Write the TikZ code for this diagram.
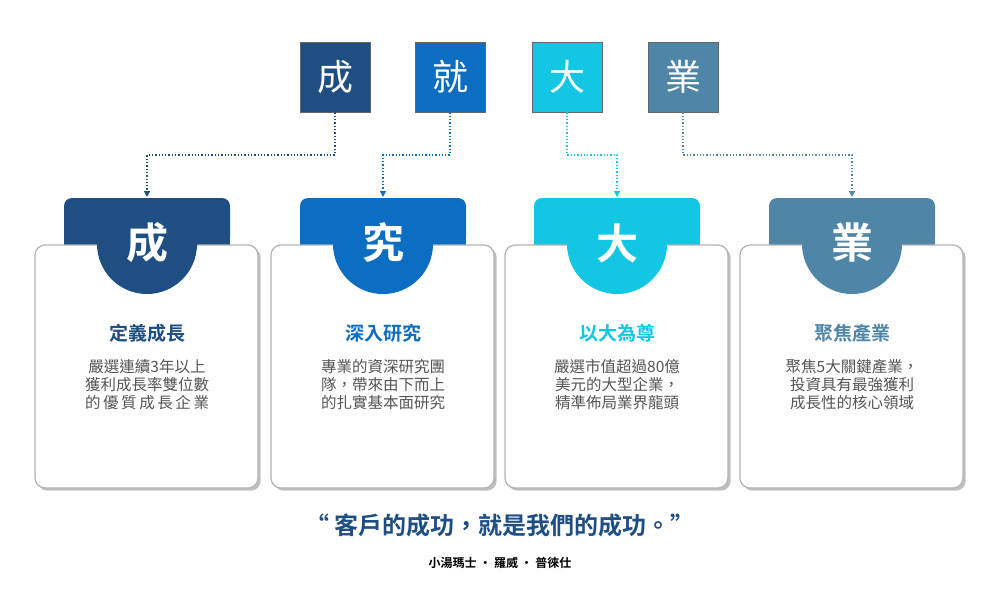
\documentclass[tikz,border=0pt]{standalone}
\usepackage{fontspec}
\setmainfont{Noto Sans CJK TC}
\newfontfamily\cjkb{Noto Sans CJK TC Bold}
\usetikzlibrary{arrows.meta,shadows}
\definecolor{cA}{HTML}{1F4E83}
\definecolor{cB}{HTML}{0B6EC2}
\definecolor{cC}{HTML}{12C6E4}
\definecolor{cD}{HTML}{4F86A8}
\definecolor{bodyc}{HTML}{555555}
\tikzset{
 topbox/.style={minimum width=70pt,minimum height=70pt,draw=black!60,line width=0.8pt,text=white,font=\fontsize{36}{36}\selectfont},
 link/.style={dotted,line width=1.3pt,-{Triangle[length=6pt,width=6pt]}},
 card/.style={draw=black!30,line width=1.2pt,fill=white,rounded corners=10pt,drop shadow},
 ttl/.style={font=\cjkb\fontsize{19}{19}\selectfont},
 body/.style={text=bodyc,font=\fontsize{15.5}{18}\selectfont,align=center},
}
\begin{document}
\begin{tikzpicture}[x=1pt,y=-1pt]
\useasboundingbox (0,0) rectangle (1000,611);
% top boxes
\node[topbox,fill=cA] (t1) at (335,77) {成};
\node[topbox,fill=cB] (t2) at (450,77) {就};
\node[topbox,fill=cC] (t3) at (567,77) {大};
\node[topbox,fill=cD] (t4) at (683,77) {業};
% cards
\foreach \cx/\col/\ch/\nm in {147/cA/成/1,383/cB/究/2,617/cC/大/3,852/cD/業/4}{
 \fill[\col,rounded corners=8pt] (\cx-83,245) -- (\cx-83,198) -- (\cx+83,198) -- (\cx+83,245) -- cycle;
 \fill[\col] (\cx-83,235) rectangle (\cx+83,246);
 \draw[card] (\cx-112,245) rectangle (\cx+111,488);
 \fill[\col] (\cx-50,244) arc[start angle=180,end angle=0,radius=50] -- cycle;
 \node[text=white,font=\cjkb\fontsize{42}{42}\selectfont] (m\nm) at (\cx,243) {\ch};
 \coordinate (a\nm) at (\cx,197);
}
\node[ttl,text=cA] (h1) at (147,333) {定義成長};
\node[ttl,text=cB] (h2) at (383,333) {深入研究};
\node[ttl,text=cC] (h3) at (617,333) {以大為尊};
\node[ttl,text=cD] (h4) at (852,333) {聚焦產業};
\node[body] (b1) at (147,385) {嚴選連續3年以上\\獲利成長率雙位數\\的\,優\,質\,成\,長\,企\,業};
\node[body] (b2) at (383,385) {專業的資深研究團\\隊，帶來由下而上\\的扎實基本面研究};
\node[body] (b3) at (617,385) {嚴選市值超過80億\\美元的大型企業，\\精準佈局業界龍頭};
\node[body] (b4) at (852,385) {聚焦5大關鍵產業，\\投資具有最強獲利\\成長性的核心領域};
% links
\draw[link,draw=cA] (t1.south) |- (147,155) -- (a1);
\draw[link,draw=cB] (t2.south) |- (383,155) -- (a2);
\draw[link,draw=cC] (t3.south) |- (617,155) -- (a3);
\draw[link,draw=cD] (t4.south) |- (852,155) -- (a4);
% quote
\node[text=cA,font=\cjkb\fontsize{24}{24}\selectfont] (q) at (500,525) {“ 客戶的成功，就是我們的成功。”};
\node[font=\cjkb\fontsize{12}{12}\selectfont] (s) at (500,563) {小湯瑪士 ·  羅威 ·  普徠仕};
\end{tikzpicture}
\end{document}
